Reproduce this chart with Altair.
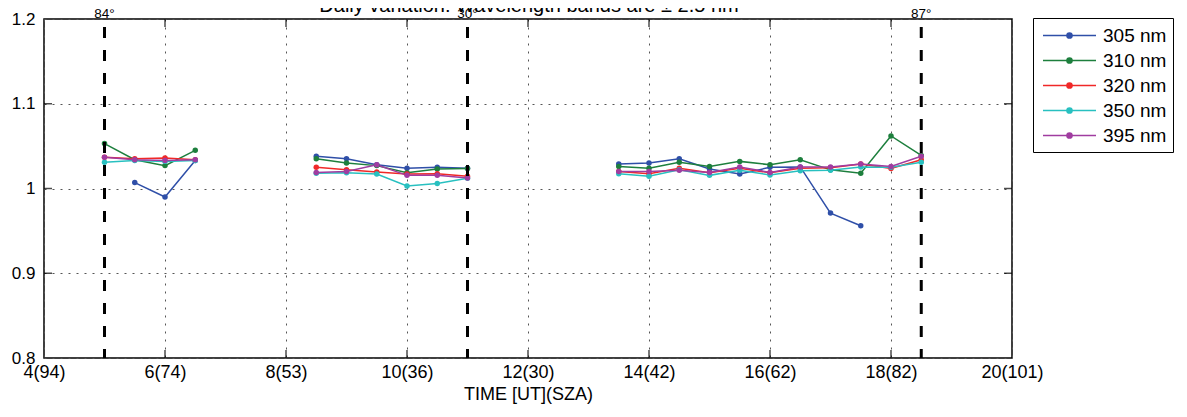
import altair as alt
import pandas as pd

# ---------------- data ----------------
series_names = ["305 nm", "310 nm", "320 nm", "350 nm", "395 nm"]
series_colors = ["#2f4fa8", "#1d7f3d", "#f02828", "#28c0c0", "#a03ca0"]

times_morning = [5.0, 5.5, 6.0, 6.5]
times_midday = [8.5, 9.0, 9.5, 10.0, 10.5, 11.0]
times_afternoon = [13.5, 14.0, 14.5, 15.0, 15.5, 16.0, 16.5, 17.0, 17.5, 18.0, 18.5]

v305_morning = [None, 1.007, 0.990, 1.033]
v305_midday = [1.038, 1.035, 1.028, 1.024, 1.025, 1.024]
v305_afternoon = [1.029, 1.030, 1.035, 1.023, 1.017, 1.025, 1.0255, 0.971, 0.956, None, None]

v310_morning = [1.053, 1.034, 1.027, 1.045]
v310_midday = [1.035, 1.030, 1.027, 1.0185, 1.023, 1.0235]
v310_afternoon = [1.026, 1.024, 1.031, 1.026, 1.032, 1.028, 1.034, 1.022, 1.018, 1.062, 1.039]

v320_morning = [1.037, 1.035, 1.036, 1.034]
v320_midday = [1.025, 1.022, 1.0195, 1.017, 1.0175, 1.0145]
v320_afternoon = [1.020, 1.0175, 1.024, 1.0185, 1.024, 1.0185, 1.024, 1.0245, 1.029, 1.0235, 1.034]

v350_morning = [1.031, 1.033, 1.032, 1.033]
v350_midday = [1.018, 1.0185, 1.017, 1.003, 1.006, 1.012]
v350_afternoon = [1.0175, 1.0145, 1.022, 1.0155, 1.0215, 1.016, 1.021, 1.0215, 1.0255, 1.025, 1.031]

v395_morning = [1.037, 1.034, 1.033, 1.034]
v395_midday = [1.019, 1.020, 1.028, 1.0155, 1.0155, 1.0125]
v395_afternoon = [1.020, 1.020, 1.0215, 1.019, 1.0255, 1.019, 1.0255, 1.0255, 1.029, 1.026, 1.038]

sza_times = [5.0, 11.0, 18.5]
sza_labels = ["84°", "30°", "87°"]

x_tick_values = [4, 6, 8, 10, 12, 14, 16, 18, 20]
x_tick_labels = ["4(94)", "6(74)", "8(53)", "10(36)", "12(30)", "14(42)", "16(62)", "18(82)", "20(101)"]
y_tick_values = [0.8, 0.9, 1.0, 1.1, 1.2]

title_text = "Daily variation: Wavelength bands are ± 2.5 nm"
x_title = "TIME [UT](SZA)"

# ---------------- table ----------------
series_values = {
    "305 nm": [v305_morning, v305_midday, v305_afternoon],
    "310 nm": [v310_morning, v310_midday, v310_afternoon],
    "320 nm": [v320_morning, v320_midday, v320_afternoon],
    "350 nm": [v350_morning, v350_midday, v350_afternoon],
    "395 nm": [v395_morning, v395_midday, v395_afternoon],
}
segments = [("a", times_morning), ("b", times_midday), ("c", times_afternoon)]
rows = []
for name in series_names:
    for (seg, times), vals in zip(segments, series_values[name]):
        for t, v in zip(times, vals):
            if v is not None:
                rows.append({"series": name, "segment": seg, "t": t, "v": v})
df = pd.DataFrame(rows)

W, H = 968, 339
FONT = "Liberation Sans"

x_scale = alt.Scale(domain=[4, 20], nice=False, zero=False)
y_scale = alt.Scale(domain=[0.8, 1.2], nice=False, zero=False)

label_expr = "[" + ",".join("'%s'" % s for s in x_tick_labels) + "][(datum.value-4)/2]"

x_axis = alt.Axis(
    values=x_tick_values,
    labelExpr=label_expr,
    title=x_title,
    grid=True,
    ticks=False,
    domain=False,
    labelFlush=False,
    labelOverlap=False,
)
y_axis = alt.Axis(
    values=y_tick_values,
    format="~g",
    title=None,
    grid=True,
    ticks=False,
    domain=False,
    labelFlush=False,
    labelOverlap=False,
)

def X(field):
    return alt.X(field, scale=x_scale, axis=x_axis)

def Y(field):
    return alt.Y(field, scale=y_scale, axis=y_axis)

# legend symbol: line with a (filled-looking) dot
radii = [0.245, 0.16, 0.075]
sym = "M-2.5,0L2.5,0"
for r in radii:
    sym += "M%.3f,0A%.3f,%.3f,0,1,1,%.3f,0A%.3f,%.3f,0,1,1,%.3f,0Z" % (-r, r, r, r, r, r, -r)

sza_df = pd.DataFrame({"t": sza_times, "label": sza_labels})
xt_df = pd.DataFrame({"t": x_tick_values[1:-1]})
yt_df = pd.DataFrame({"v": y_tick_values[1:-1]})
title_df = pd.DataFrame({"title": [title_text]})

lines = alt.Chart(df).mark_line(
    strokeWidth=1.5,
    point=alt.OverlayMarkDef(filled=True, size=30, opacity=1),
).encode(
    x=X("t:Q"),
    y=Y("v:Q"),
    color=alt.Color(
        "series:N",
        scale=alt.Scale(domain=series_names, range=series_colors),
        legend=alt.Legend(
            orient="none",
            legendX=989,
            legendY=-1,
            title=None,
            direction="vertical",
            symbolType=sym,
            symbolSize=450,
            symbolStrokeWidth=1.5,
            symbolOpacity=1,
            symbolOffset=19,
            labelFont=FONT,
            labelFontSize=19,
            labelColor="black",
            labelOffset=22,
            labelLimit=300,
            rowPadding=3,
            padding=6,
            strokeColor="black",
            fillColor="white",
        ),
    ),
    detail="segment:N",
)

rules = alt.Chart(sza_df).mark_rule(
    strokeDash=[11, 12], strokeDashOffset=15, strokeWidth=3, color="black"
).encode(
    x=X("t:Q"),
    y=alt.value(0),
    y2=alt.value(H),
)

top_ticks = alt.Chart(xt_df).mark_tick(
    orient="vertical", size=16, thickness=1.5, color="black", clip=True
).encode(x=X("t:Q"), y=alt.value(0))
bottom_ticks = alt.Chart(xt_df).mark_tick(
    orient="vertical", size=16, thickness=1.5, color="black", clip=True
).encode(x=X("t:Q"), y=alt.value(H))
left_ticks = alt.Chart(yt_df).mark_tick(
    orient="horizontal", size=16, thickness=1.5, color="black", clip=True
).encode(y=Y("v:Q"), x=alt.value(0))
right_ticks = alt.Chart(yt_df).mark_tick(
    orient="horizontal", size=16, thickness=1.5, color="black", clip=True
).encode(y=Y("v:Q"), x=alt.value(W))

sza_text = alt.Chart(sza_df).mark_text(
    font=FONT, fontSize=13.5, baseline="alphabetic", align="center", color="black"
).encode(x=X("t:Q"), y=alt.value(-1), text="label:N")

title_mark = alt.Chart(title_df).mark_text(
    font=FONT, fontSize=20, baseline="alphabetic", align="center", color="black"
).encode(x=alt.value(485), y=alt.value(-7), text="title:N")

chart = alt.layer(
    lines, rules, top_ticks, bottom_ticks, left_ticks, right_ticks, sza_text, title_mark
).properties(
    width=W,
    height=H,
    padding={"left": 36, "top": 11, "right": 167, "bottom": 51},
    autosize=alt.AutoSizeParams(type="none"),
).configure(
    font=FONT,
    background="white",
).configure_view(
    stroke="black", strokeWidth=1.5
).configure_axis(
    labelFont=FONT,
    labelFontSize=18,
    labelColor="black",
    titleFont=FONT,
    titleFontSize=18,
    titleFontWeight="normal",
    titleColor="black",
    gridColor="#555555",
    gridDash=[2, 6],
    gridWidth=1,
).configure_axisX(
    labelPadding=5, titlePadding=4
).configure_axisY(
    labelPadding=9, labelFontSize=17
)

chart.save("out.html", embed_options={"renderer": "svg", "actions": False})
